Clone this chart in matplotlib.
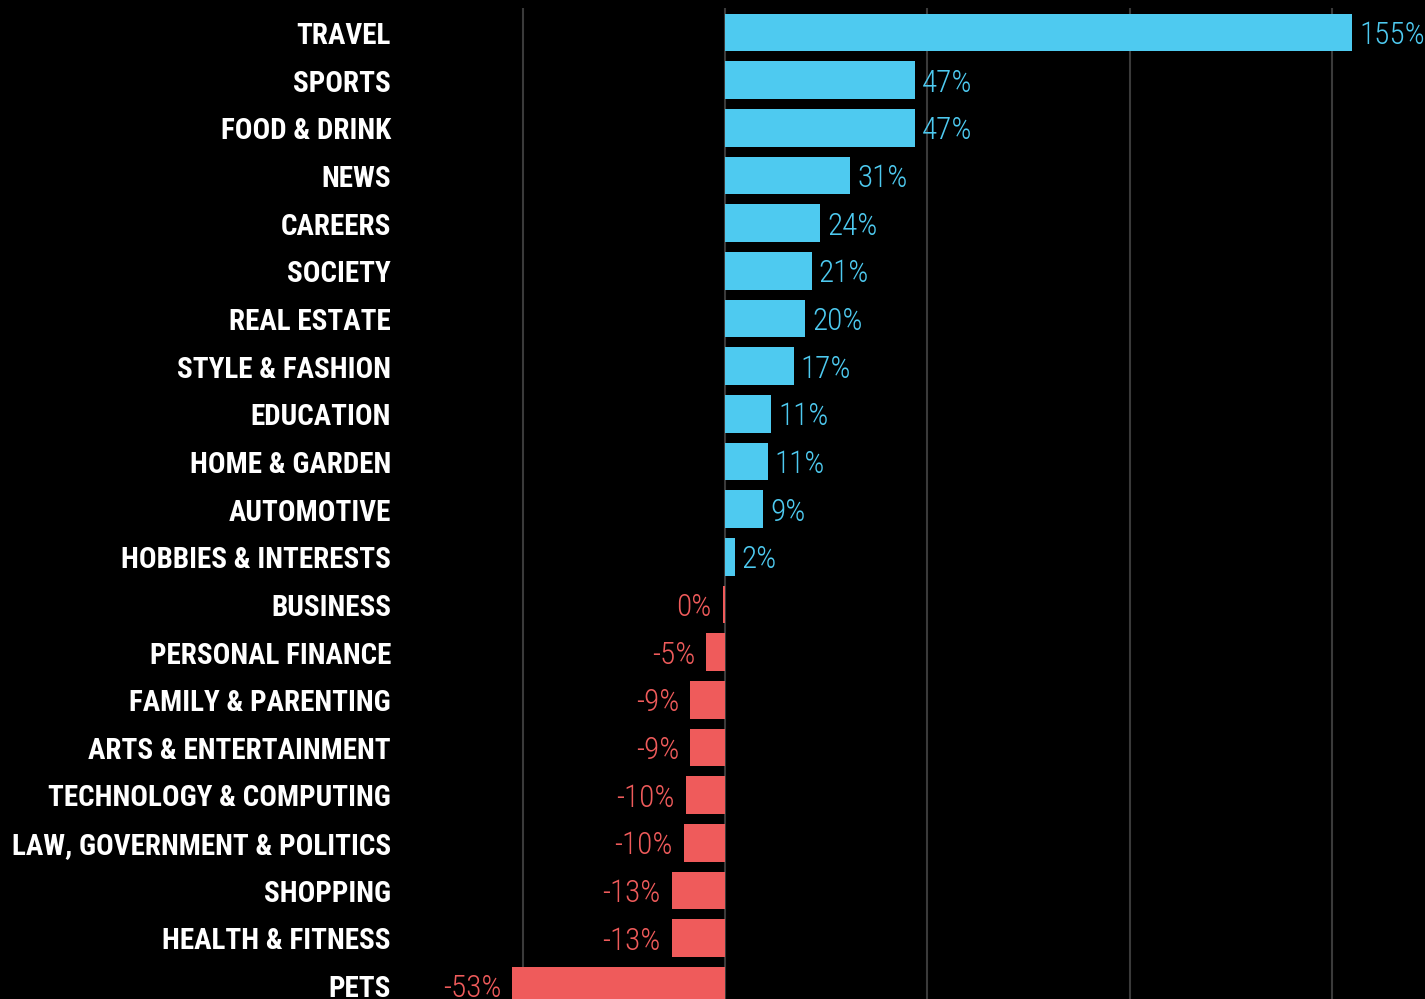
import matplotlib
matplotlib.use('Agg')
import matplotlib.pyplot as plt
import matplotlib.transforms as mtransforms
from matplotlib import font_manager

# categories, top to bottom
categories = ['TRAVEL', 'SPORTS', 'FOOD & DRINK', 'NEWS', 'CAREERS', 'SOCIETY',
              'REAL ESTATE', 'STYLE & FASHION', 'EDUCATION', 'HOME & GARDEN',
              'AUTOMOTIVE', 'HOBBIES & INTERESTS', 'BUSINESS', 'PERSONAL FINANCE',
              'FAMILY & PARENTING', 'ARTS & ENTERTAINMENT', 'TECHNOLOGY & COMPUTING',
              'LAW, GOVERNMENT & POLITICS', 'SHOPPING', 'HEALTH & FITNESS', 'PETS']
# % change
change = [155, 47, 47, 31, 23.6, 21.4, 19.8, 17, 11.4, 10.6,
          9.4, 2.4, -0.5, -4.6, -8.6, -8.6, -9.6, -10.2, -13.1, -13.1, -52.6]
gridlines = [-50, 0, 50, 100, 150]

blue = '#4ECAF0'
red = '#EF5B5B'

# use a narrow font if there is one, else Roboto
names = {f.name for f in font_manager.fontManager.ttflist}
font = 'Roboto'
for cand in ['Liberation Sans Narrow', 'Roboto Condensed', 'Open Sans Condensed']:
    if cand in names:
        font = cand
        break
fam = [font, 'DejaVu Sans']

fig = plt.figure(figsize=(14.25, 9.99), dpi=100, facecolor='black')
ax = fig.add_axes([399.4 / 1425, 0, 1025.4 / 1425, 991 / 999])
ax.set_facecolor('black')

y = list(range(len(categories)))
colors = [blue if v > 0 else red for v in change]

for g in gridlines:
    ax.axvline(g, color='#3a3a3a', lw=1.5, zorder=0)

ax.barh(y, change, height=0.79, color=colors, zorder=2)

# value labels at the bar ends
for yi, v in zip(y, change):
    lab = f"{int(round(v))}%"
    if v > 0:
        ax.annotate(lab, (v, yi), xytext=(5, -2.2), textcoords='offset points',
                    ha='left', va='center', color=blue, fontsize=22.5,
                    fontweight='light', family=fam, annotation_clip=False)
    else:
        ax.annotate(lab, (v, yi), xytext=(-8, -2.2), textcoords='offset points',
                    ha='right', va='center', color=red, fontsize=22.5,
                    fontweight='light', family=fam, annotation_clip=False)

# category names, right edge at a fixed pixel column left of the axes
trans = mtransforms.blended_transform_factory(fig.transFigure, ax.transData)
trans = trans + mtransforms.ScaledTranslation(0, -2.5 / 72, fig.dpi_scale_trans)
cat_texts = []
for yi, name in zip(y, categories):
    t = ax.text(391 / 1425, yi, name, transform=trans, ha='right', va='center',
                color='white', fontsize=20, fontweight='bold', family=fam,
                clip_on=False)
    cat_texts.append(t)

# size the names so the longest one is as wide as in the original (~379 px)
fig.canvas.draw()
r = fig.canvas.get_renderer()
widest = max(t.get_window_extent(r).width for t in cat_texts)
for t in cat_texts:
    t.set_fontsize(20 * 379 / widest)

ax.set_xlim(-80.5, 173.0)
ax.set_ylim(20.28, -0.514)
ax.set_xticks([])
ax.set_yticks([])
for s in ax.spines.values():
    s.set_visible(False)

fig.savefig('out.png', dpi=100, facecolor='black')
